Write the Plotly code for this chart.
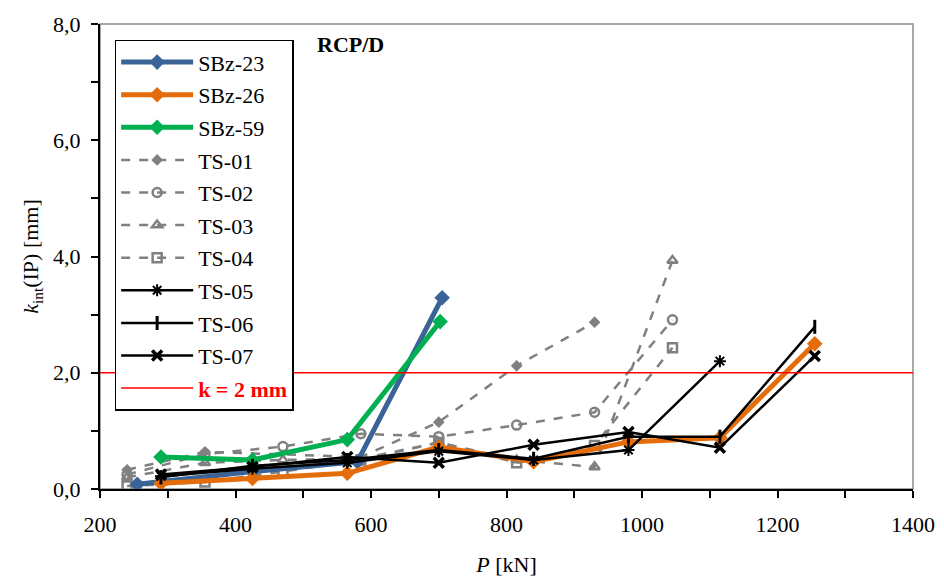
import plotly.graph_objects as go

# Load steps P [kN] and interface slip k_int(IP) [mm] per specimen
sbz23_p = [255, 425, 580, 705]
sbz23_k = [0.08, 0.30, 0.47, 3.29]
sbz26_p = [290, 425, 565, 700, 840, 980, 1115, 1255]
sbz26_k = [0.10, 0.18, 0.27, 0.72, 0.47, 0.81, 0.88, 2.50]
sbz59_p = [290, 425, 565, 702]
sbz59_k = [0.55, 0.50, 0.85, 2.88]

ts01_p = [240, 355, 585, 700, 815, 930]
ts01_k = [0.33, 0.64, 0.55, 1.15, 2.12, 2.87]
ts02_p = [240, 355, 470, 585, 700, 815, 930, 1045]
ts02_k = [0.25, 0.60, 0.73, 0.95, 0.90, 1.10, 1.32, 2.91]
ts03_p = [240, 355, 470, 585, 700, 815, 930, 1045]
ts03_k = [0.20, 0.45, 0.50, 0.52, 0.80, 0.50, 0.38, 3.93]
ts04_p = [240, 355, 470, 585, 700, 815, 930, 1045]
ts04_k = [0.05, 0.12, 0.30, 0.50, 0.80, 0.45, 0.75, 2.43]
ts05_p = [290, 425, 565, 700, 840, 980, 1115]
ts05_k = [0.22, 0.35, 0.45, 0.65, 0.50, 0.67, 2.20]
ts06_p = [290, 425, 565, 700, 840, 980, 1115, 1255]
ts06_k = [0.20, 0.40, 0.50, 0.67, 0.52, 0.90, 0.90, 2.79]
ts07_p = [290, 425, 565, 700, 840, 980, 1115, 1255]
ts07_k = [0.25, 0.38, 0.55, 0.45, 0.76, 0.98, 0.71, 2.29]

k_limit = 2.0
p_range = [200, 1400]
k_range = [0, 8]

BLUE = "#3A6397"
ORANGE = "#E46C0A"
GREEN = "#00B050"
GRAY = "#808080"
FONT = "Liberation Serif"

fig = go.Figure()

def add(name, p, k, color, width, dash, symbol, msize, mline=None):
    fig.add_trace(go.Scatter(
        x=p, y=k, name=name, mode="lines+markers",
        line=dict(color=color, width=width, dash=dash),
        marker=dict(symbol=symbol, size=msize, color=color,
                    line=dict(color=color, width=mline if mline else 0)),
        legendgroup=name,
    ))

# Gray dashed reference series drawn first (underneath)
add("TS-01", ts01_p, ts01_k, GRAY, 2.5, "dash", "diamond", 9)
add("TS-02", ts02_p, ts02_k, GRAY, 2.5, "dash", "circle-open", 9, 2.5)
add("TS-03", ts03_p, ts03_k, GRAY, 2.5, "dash", "triangle-up-open", 9, 2.5)
add("TS-04", ts04_p, ts04_k, GRAY, 2.5, "dash", "square-open", 9, 2.5)
# Thick SBz series
add("SBz-23", sbz23_p, sbz23_k, BLUE, 5, "solid", "diamond", 12)
add("SBz-26", sbz26_p, sbz26_k, ORANGE, 5, "solid", "diamond", 12)
add("SBz-59", sbz59_p, sbz59_k, GREEN, 5, "solid", "diamond", 12)
# Black series
add("TS-05", ts05_p, ts05_k, "black", 2.5, "solid", "asterisk-open", 10, 2)
add("TS-06", ts06_p, ts06_k, "black", 2.5, "solid", "line-ns-open", 10, 3)
add("TS-07", ts07_p, ts07_k, "black", 2.5, "solid", "x-thin-open", 10, 3.5)

fig.add_trace(go.Scatter(
    x=p_range, y=[k_limit, k_limit], mode="lines",
    name="<b><span style='color:#FF0000'>k = 2 mm</span></b>",
    line=dict(color="#FF0000", width=1.5), legendgroup="klim",
))

legend_order = ["SBz-23", "SBz-26", "SBz-59", "TS-01", "TS-02", "TS-03", "TS-04",
                "TS-05", "TS-06", "TS-07"]
for tr in fig.data:
    tr.legendrank = legend_order.index(tr.name) + 1 if tr.name in legend_order else 20

fig.add_shape(type="rect", xref="paper", yref="paper", x0=0, y0=0, x1=1, y1=1,
              line=dict(color="#8C8C8C", width=1.5), layer="below")

fig.add_annotation(x=0.264, y=0.987, xref="paper", yref="paper",
                   text="<b>RCP/D</b>", showarrow=False, xanchor="left", yanchor="top",
                   font=dict(family=FONT, size=22, color="black"))

tick_style = dict(ticks="outside", ticklen=7, tickwidth=1.5, tickcolor="black")

fig.update_layout(
    width=944, height=580,
    margin=dict(l=100, r=31, t=24, b=91),
    paper_bgcolor="white", plot_bgcolor="white",
    separators=",.",
    font=dict(family=FONT, size=22, color="black"),
    showlegend=True,
    legend=dict(
        x=0.018, y=0.966, xanchor="left", yanchor="top",
        bgcolor="white", bordercolor="black", borderwidth=1.5,
        font=dict(family=FONT, size=22, color="black"),
        itemwidth=72, tracegroupgap=1, traceorder="grouped",
    ),
    xaxis=dict(
        range=p_range, dtick=200, tick0=200, automargin=False,
        showgrid=False, zeroline=False,
        showline=True, linecolor="black", linewidth=2,
        **tick_style,
        minor=dict(dtick=100, **tick_style),
        ticklabelstandoff=8,
        tickfont=dict(family=FONT, size=22),
        title=dict(text="<i>P</i> [kN]", font=dict(family=FONT, size=22), standoff=20),
    ),
    yaxis=dict(
        range=k_range, dtick=2, tick0=0, tickformat=".1f", automargin=False,
        showgrid=False, zeroline=False,
        showline=True, linecolor="black", linewidth=2,
        **tick_style,
        minor=dict(dtick=1, **tick_style),
        ticklabelstandoff=6,
        tickfont=dict(family=FONT, size=22),
        title=dict(text="<i>k</i><sub>int</sub>(IP) [mm]", font=dict(family=FONT, size=22), standoff=8),
    ),
)

fig.write_html("out.html")
